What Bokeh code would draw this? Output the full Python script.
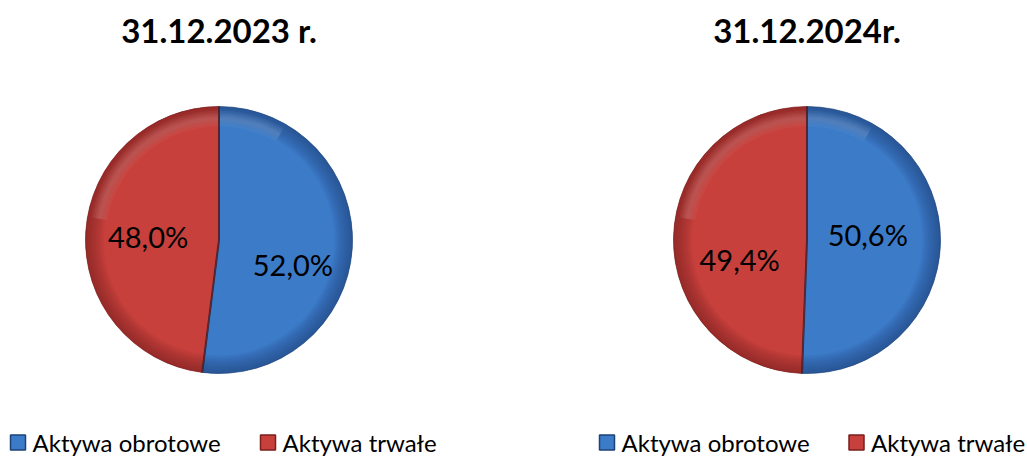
import math
from bokeh.plotting import figure
from bokeh.models import Range1d, ColumnDataSource
from bokeh.core.properties import value
from bokeh.embed import file_html
from bokeh.resources import INLINE

# ---- data ----
categories = ["Aktywa obrotowe", "Aktywa trwałe"]
titles = ["31.12.2023 r.", "31.12.2024r."]
values_2023 = [52.0, 48.0]
values_2024 = [50.6, 49.4]
series = [values_2023, values_2024]

# ---- styles / layout ----
colors = ["#3c7bc8", "#c7403c"]
dark = ["#1d4277", "#7a1e1c"]
W, H = 1027, 459
centers_x = [218.5, 806.5]
center_y = 219.5
R = 133.5
FONT = "Lato"
# label placement (layout): angular tweak (deg) and radial distance per slice
label_adj = [[-15, 1], [6, 17]]
label_dist = [[78, 71], [61, 70]]
legend_x = [[10, 260], [599, 848.5]]
legend_y = 17

p = figure(width=W, height=H, x_range=Range1d(0, W), y_range=Range1d(0, H),
           output_backend="svg", toolbar_location=None, min_border=0)
p.axis.visible = False
p.grid.visible = False
p.outline_line_color = None
p.background_fill_color = "white"
p.border_fill_color = "white"

for i, vals in enumerate(series):
    cx = centers_x[i]
    total = sum(vals)
    start = math.pi / 2
    starts, ends = [], []
    for v in vals:
        span = 2 * math.pi * v / total
        starts.append(start)
        ends.append(start - span)
        start -= span
    src = ColumnDataSource(dict(x=[cx] * len(vals), y=[center_y] * len(vals),
                                s=starts, e=ends, c=colors, d=dark))
    p.wedge(x="x", y="y", radius=R, start_angle="s", end_angle="e",
            direction="clock", fill_color="c", line_color=None, source=src)
    # bevel: darker rim
    for k in range(9):
        inner = R - 18 + k * 2
        p.annular_wedge(x="x", y="y", inner_radius=inner, outer_radius=R,
                        start_angle="s", end_angle="e", direction="clock",
                        fill_color="d", fill_alpha=0.09, line_color=None, source=src)
    # soft light on upper part of rim
    for k in range(4):
        p.annular_wedge(x=cx, y=center_y, inner_radius=R - 20 + k * 2, outer_radius=R - 4 - k * 2,
                        start_angle=math.radians(60), end_angle=math.radians(170),
                        direction="anticlock", fill_color="white", fill_alpha=0.04,
                        line_color=None)
    # separators
    for a in starts:
        p.segment(x0=cx, y0=center_y, x1=cx + R * math.cos(a), y1=center_y + R * math.sin(a),
                  line_color="#2a1010", line_width=2, line_alpha=0.7)
    # outer thin edge
    p.wedge(x="x", y="y", radius=R, start_angle="s", end_angle="e",
            direction="clock", fill_color=None, line_color="d", line_width=1,
            line_alpha=0.6, source=src)
    # labels
    lx, ly, lt = [], [], []
    for j, v in enumerate(vals):
        mid = (starts[j] + ends[j]) / 2 + math.radians(label_adj[i][j])
        lx.append(cx + label_dist[i][j] * math.cos(mid))
        ly.append(center_y + label_dist[i][j] * math.sin(mid))
        lt.append(f"{v:.1f}%".replace(".", ","))
    p.text(x=lx, y=ly, text=lt, text_font=value(FONT), text_font_size="29px",
           text_align="center", text_baseline="middle", text_color="black")
    # title
    p.text(x=[cx], y=[429.5], text=[titles[i]], text_font=value(FONT),
           text_font_size="33px", text_font_style="bold", text_align="center",
           text_baseline="middle", text_color="black")
    # legend
    for j, cat in enumerate(categories):
        mx = legend_x[i][j]
        p.rect(x=mx + 7.5, y=legend_y, width=15, height=15, fill_color=colors[j],
               line_color=dark[j], line_width=1.5)
        p.text(x=[mx + 22], y=[legend_y], text=[cat], text_font=value(FONT),
               text_font_size="24px", text_align="left", text_baseline="middle",
               text_color="black")

open("out.html", "w").write(file_html(p, INLINE))
